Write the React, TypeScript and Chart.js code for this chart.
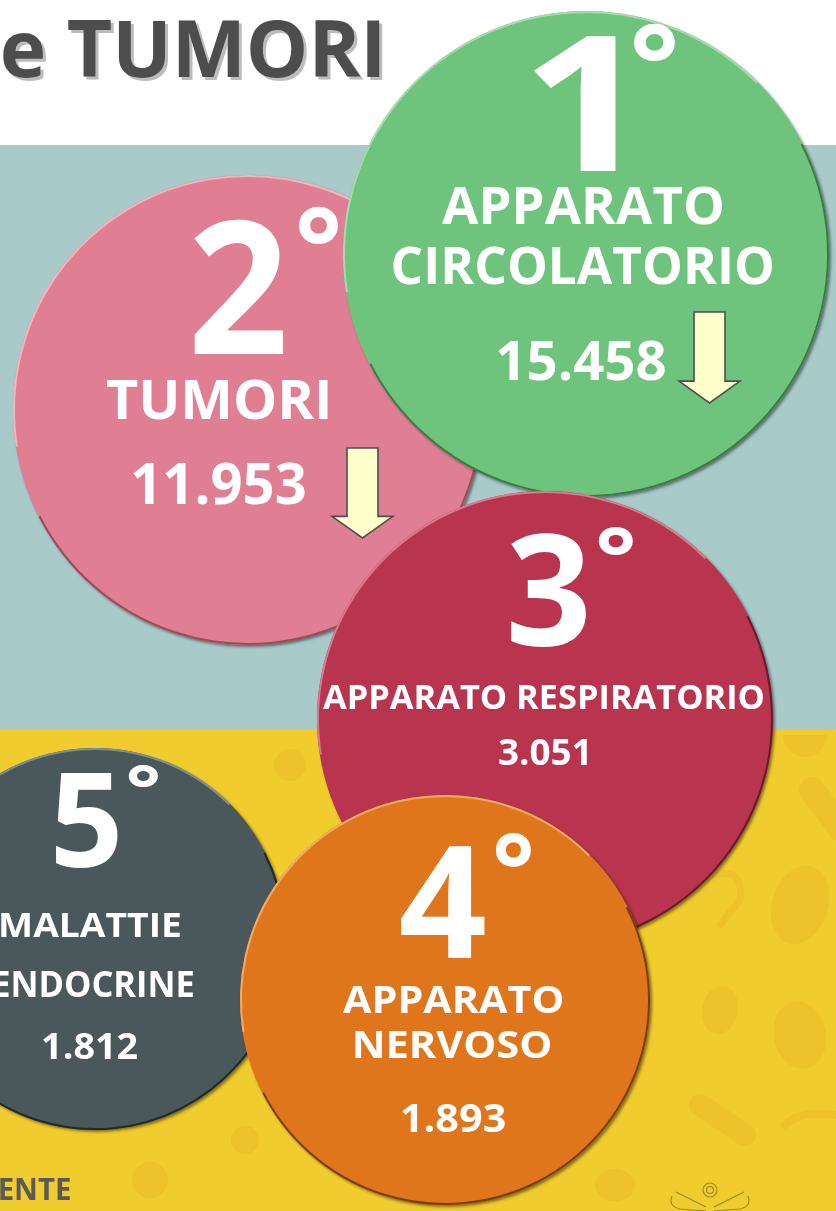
import React, { useEffect, useRef } from "react";
import { Chart, registerables } from "chart.js";

Chart.register(...registerables);

// ---------- data ----------
const ranks = [1, 2, 3, 4, 5];
const categories: string[][] = [
  ["APPARATO", "CIRCOLATORIO"],
  ["TUMORI"],
  ["APPARATO RESPIRATORIO"],
  ["APPARATO", "NERVOSO"],
  ["MALATTIE", "ENDOCRINE"],
];
const deaths = [15458, 11953, 3051, 1893, 1812];
const trendDown = [true, true, false, false, false];
const titleText = "e TUMORI";
const footerText = "ENTE";

// ---------- layout (positions / sizes / styles) ----------
const W = 836;
const H = 1211;
const bubbleX = [586, 248, 545, 445, 95];
const bubbleY = [254, 410, 719, 1000, 939];
const bubbleR = [243, 235, 228, 205, 191];
const drawOrder = [3, 4, 2, 0, 1];
const fills = ["#6fc47d", "#e07f93", "#b9354f", "#e0761c", "#4a585b"];
const rimLight = ["#a6dbab", "#f2b5c1", "#d9798b", "#f2a866", "#7f8e91"];
const rimDark = ["#3c7a44", "#9c4b5b", "#6a1a2c", "#7a3d0c", "#20292b"];

type Box = [number, number, number, number]; // x0, x1, y0, y1 (ink box)
const rankBox: Box[] = [
  [532, 617, 35, 171],
  [193, 283, 219, 354],
  [510, 587, 533, 647],
  [400, 485, 845, 958],
  [55, 118, 773, 868],
];
const degreeBox: Box[] = [
  [633, 675, 22, 60],
  [298, 338, 205, 243],
  [598, 633, 527, 555],
  [495, 531, 833, 867],
  [128, 158, 765, 787],
];
const lineBoxes: Box[][] = [
  [[442, 722, 187, 225], [393, 772, 247, 285]],
  [[107, 328, 380, 420]],
  [[323, 763, 684, 709]],
  [[343, 562, 985, 1013], [355, 550, 1030, 1058]],
  [[1, 180, 912, 937], [-6, 193, 970, 997]],
];
const valueBox: Box[] = [
  [498, 665, 341, 381],
  [133, 305, 463, 505],
  [499, 587, 739, 765],
  [402, 505, 1103, 1132],
  [43, 137, 1033, 1059],
];
const arrowBox: (Box | null)[] = [
  [679, 740, 312, 403],
  [332, 393, 448, 538],
  null,
  null,
  null,
];
const titleBox: Box = [3, 380, 20, 78];
const footerBox: Box = [0, 70, 1178, 1200];

const FONT = '"Open Sans", "DejaVu Sans", sans-serif';

function formatIt(n: number): string {
  const s = String(Math.round(n));
  return s.replace(/\B(?=(\d{3})+(?!\d))/g, ".");
}

function drawInBox(ctx: CanvasRenderingContext2D, text: string, box: Box, color: string) {
  const [x0, x1, y0, y1] = box;
  ctx.save();
  ctx.font = `bold 100px ${FONT}`;
  ctx.textAlign = "left";
  ctx.textBaseline = "alphabetic";
  const m = ctx.measureText(text);
  const abl = m.actualBoundingBoxLeft;
  const abr = m.actualBoundingBoxRight;
  const asc = m.actualBoundingBoxAscent;
  const desc = m.actualBoundingBoxDescent;
  const sx = (x1 - x0) / (abl + abr);
  const sy = (y1 - y0) / (asc + desc);
  ctx.translate(x0, y0);
  ctx.scale(sx, sy);
  ctx.fillStyle = color;
  ctx.fillText(text, abl, asc);
  ctx.restore();
}

function drawArrow(ctx: CanvasRenderingContext2D, box: Box) {
  const [x0, x1, y0, y1] = box;
  const w = x1 - x0;
  const h = y1 - y0;
  const inset = w * 0.246;
  const headTop = y0 + h * 0.76;
  const cx = (x0 + x1) / 2;
  ctx.save();
  ctx.beginPath();
  ctx.moveTo(x0 + inset, y0);
  ctx.lineTo(x1 - inset, y0);
  ctx.lineTo(x1 - inset, headTop);
  ctx.lineTo(x1, headTop);
  ctx.lineTo(cx, y1);
  ctx.lineTo(x0, headTop);
  ctx.lineTo(x0 + inset, headTop);
  ctx.closePath();
  ctx.fillStyle = "#ffffcc";
  ctx.fill();
  ctx.lineWidth = 1.6;
  ctx.strokeStyle = "#4f4f4f";
  ctx.lineJoin = "miter";
  ctx.stroke();
  ctx.restore();
}

const backgroundPlugin = {
  id: "infographicBackground",
  beforeDraw(chart: any) {
    const ctx: CanvasRenderingContext2D = chart.ctx;
    ctx.save();
    ctx.fillStyle = "#ffffff";
    ctx.fillRect(0, 0, W, H);
    ctx.fillStyle = "#a8cbca";
    ctx.fillRect(0, 145, W, 585);
    ctx.fillStyle = "#f1cc2e";
    ctx.fillRect(0, 730, W, H - 730);

    // faint pattern on yellow band
    ctx.fillStyle = "#edc22b";
    ctx.strokeStyle = "#edc22b";
    ctx.lineCap = "round";
    ctx.beginPath();
    ctx.arc(805, 735, 22, 0, Math.PI);
    ctx.fill();
    ctx.lineWidth = 26;
    ctx.beginPath();
    ctx.moveTo(812, 790);
    ctx.lineTo(850, 840);
    ctx.stroke();
    ctx.beginPath();
    ctx.ellipse(800, 905, 28, 40, 0.3, 0, Math.PI * 2);
    ctx.fill();
    ctx.lineWidth = 7;
    ctx.beginPath();
    ctx.moveTo(700, 880);
    ctx.quadraticCurveTo(745, 860, 740, 900);
    ctx.lineTo(720, 925);
    ctx.stroke();
    ctx.beginPath();
    ctx.ellipse(800, 1035, 26, 34, -0.2, 0, Math.PI * 2);
    ctx.fill();
    ctx.beginPath();
    ctx.ellipse(720, 1010, 18, 24, 0.2, 0, Math.PI * 2);
    ctx.fill();
    ctx.lineWidth = 22;
    ctx.beginPath();
    ctx.moveTo(700, 1105);
    ctx.lineTo(745, 1135);
    ctx.stroke();
    ctx.lineWidth = 8;
    ctx.beginPath();
    ctx.moveTo(785, 1125);
    ctx.quadraticCurveTo(800, 1110, 836, 1115);
    ctx.stroke();
    ctx.beginPath();
    ctx.arc(150, 1180, 18, 0, Math.PI * 2);
    ctx.fill();
    ctx.beginPath();
    ctx.arc(245, 1140, 14, 0, Math.PI * 2);
    ctx.fill();
    ctx.beginPath();
    ctx.arc(290, 765, 16, 0, Math.PI * 2);
    ctx.fill();
    ctx.beginPath();
    ctx.ellipse(615, 1185, 20, 16, 0, 0, Math.PI * 2);
    ctx.fill();
    ctx.restore();
  },
  afterDraw(chart: any) {
    const ctx: CanvasRenderingContext2D = chart.ctx;
    // title with light shadow
    drawInBox(ctx, titleText, [titleBox[0] + 3, titleBox[1] + 3, titleBox[2] + 3, titleBox[3] + 3], "#bcbcbc");
    drawInBox(ctx, titleText, titleBox, "#4d4d4d");
    // footer text
    drawInBox(ctx, footerText, footerBox, "#5a5a5a");
    // small outline logo bottom right
    ctx.save();
    ctx.strokeStyle = "#9a8a2a";
    ctx.lineWidth = 1.2;
    ctx.beginPath();
    ctx.arc(710, 1190, 7, 0, Math.PI * 2);
    ctx.stroke();
    ctx.beginPath();
    ctx.arc(710, 1190, 3.5, 0, Math.PI * 2);
    ctx.stroke();
    ctx.beginPath();
    ctx.moveTo(672, 1196);
    ctx.quadraticCurveTo(668, 1206, 680, 1209);
    ctx.lineTo(706, 1211);
    ctx.moveTo(748, 1196);
    ctx.quadraticCurveTo(752, 1206, 740, 1209);
    ctx.lineTo(714, 1211);
    ctx.moveTo(676, 1192);
    ctx.lineTo(706, 1207);
    ctx.moveTo(744, 1192);
    ctx.lineTo(714, 1207);
    ctx.stroke();
    ctx.restore();
  },
  beforeDatasetDraw(chart: any) {
    const ctx: CanvasRenderingContext2D = chart.ctx;
    ctx.save();
    ctx.shadowColor = "rgba(0,0,0,0.45)";
    ctx.shadowBlur = 3;
    ctx.shadowOffsetX = 2;
    ctx.shadowOffsetY = 2;
  },
  afterDatasetDraw(chart: any, args: any) {
    const ctx: CanvasRenderingContext2D = chart.ctx;
    ctx.restore();
    const i: number = args.index;
    const el = args.meta.data[0];
    if (!el) return;
    const x = el.x;
    const y = el.y;
    const r = el.options.radius;
    // rims
    ctx.save();
    ctx.lineWidth = 2;
    ctx.strokeStyle = rimDark[i];
    ctx.beginPath();
    ctx.arc(x, y, r - 1, -Math.PI * 0.15, Math.PI * 0.85);
    ctx.stroke();
    ctx.strokeStyle = rimLight[i];
    ctx.beginPath();
    ctx.arc(x, y, r - 1, Math.PI * 0.95, Math.PI * 1.75);
    ctx.stroke();
    ctx.restore();

    drawInBox(ctx, String(ranks[i]), rankBox[i], "#ffffff");
    drawInBox(ctx, "°", degreeBox[i], "#ffffff");
    categories[i].forEach((line, j) => drawInBox(ctx, line, lineBoxes[i][j], "#ffffff"));
    drawInBox(ctx, formatIt(deaths[i]), valueBox[i], "#ffffff");
    const ab = arrowBox[i];
    if (trendDown[i] && ab) drawArrow(ctx, ab);
  },
};

export default function App() {
  const canvasRef = useRef<HTMLCanvasElement | null>(null);

  useEffect(() => {
    document.body.style.margin = "0";
    document.body.style.overflow = "hidden";
    const canvas = canvasRef.current;
    if (!canvas) return;
    const chart = new Chart(canvas, {
      type: "bubble",
      data: {
        datasets: ranks.map((rank, i) => ({
          label: categories[i].join(" "),
          data: [{ x: bubbleX[i], y: bubbleY[i], r: bubbleR[i] }],
          backgroundColor: fills[i],
          borderWidth: 0,
          hoverRadius: 0,
          order: drawOrder[i],
          clip: false as any,
        })),
      },
      options: {
        responsive: false,
        animation: false,
        events: [],
        layout: { padding: 0, autoPadding: false },
        plugins: {
          legend: { display: false },
          tooltip: { enabled: false },
        },
        scales: {
          x: { type: "linear", min: 0, max: W, display: false },
          y: { type: "linear", min: 0, max: H, reverse: true, display: false },
        },
      },
      plugins: [backgroundPlugin],
    });
    return () => chart.destroy();
  }, []);

  return (
    <div style={{ width: W, height: H, overflow: "hidden" }}>
      <canvas ref={canvasRef} width={W} height={H} style={{ display: "block" }} />
    </div>
  );
}
